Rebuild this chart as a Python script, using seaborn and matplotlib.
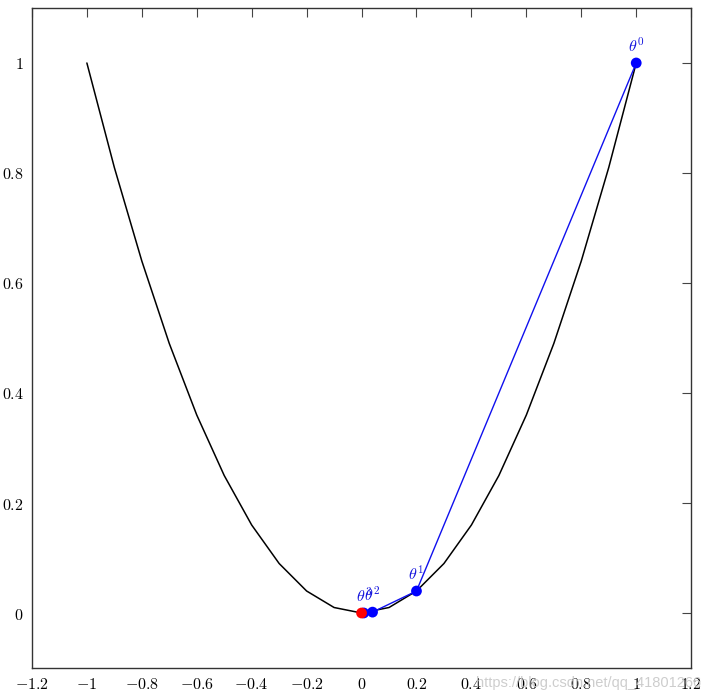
import numpy as np
import pandas as pd
import matplotlib
matplotlib.use('Agg')
import matplotlib.pyplot as plt
import seaborn as sns

curve_x = [-1.0, -0.9, -0.8, -0.7, -0.6, -0.5, -0.4, -0.3, -0.2, -0.1, 0.0,
           0.1, 0.2, 0.3, 0.4, 0.5, 0.6, 0.7, 0.8, 0.9, 1.0]
curve_y = [1.0, 0.81, 0.64, 0.49, 0.36, 0.25, 0.16, 0.09, 0.04, 0.01, 0.0,
           0.01, 0.04, 0.09, 0.16, 0.25, 0.36, 0.49, 0.64, 0.81, 1.0]

# gradient descent iterates
theta_x = [1.0, 0.2, 0.04, 0.008]
theta_y = [1.0, 0.04, 0.0016, 0.000064]
theta_labels = [r'$\theta^0$', r'$\theta^1$', r'$\theta^2$', r'$\theta^3$']

# minimum
opt_x = [0.0]
opt_y = [0.0]

x_ticks = [-1.2, -1.0, -0.8, -0.6, -0.4, -0.2, 0.0, 0.2, 0.4, 0.6, 0.8, 1.0, 1.2]
x_ticklabels = ['-1.2', '-1', '-0.8', '-0.6', '-0.4', '-0.2', '0', '0.2', '0.4',
                '0.6', '0.8', '1', '1.2']
y_ticks = [0.0, 0.2, 0.4, 0.6, 0.8, 1.0]
y_ticklabels = ['0', '0.2', '0.4', '0.6', '0.8', '1']

sns.set_style('white')
plt.rcParams['mathtext.fontset'] = 'cm'
plt.rcParams['font.family'] = ['DejaVu Serif']

curve = pd.DataFrame({'x': curve_x, 'y': curve_y})
iters = pd.DataFrame({'x': theta_x, 'y': theta_y})

fig = plt.figure(figsize=(7.26, 7.0), dpi=100)
ax = fig.add_axes([0.044, 0.0457, 0.908, 0.9429])

sns.lineplot(data=curve, x='x', y='y', color='black', linewidth=1.1,
             sort=False, ax=ax)
sns.lineplot(data=iters, x='x', y='y', color='#1010ee', linewidth=1.0,
             sort=False, ax=ax)
sns.scatterplot(data=iters, x='x', y='y', color='#0000ff', s=60,
                edgecolor='none', ax=ax, zorder=5)
sns.scatterplot(x=opt_x, y=opt_y, color='#ff0000', s=60, edgecolor='none',
                ax=ax, zorder=6)

for tx, ty, lab in zip(theta_x, theta_y, theta_labels):
    ax.annotate(lab, (tx, ty), xytext=(0, 5), textcoords='offset points',
                ha='center', va='bottom', color='#1515dd', fontsize=11.5)

ax.set_xlim(-1.2, 1.2)
ax.set_ylim(-0.1, 1.1)
ax.set_xticks(x_ticks)
ax.set_xticklabels(['$' + t + '$' for t in x_ticklabels])
ax.set_yticks(y_ticks)
ax.set_yticklabels(['$' + t + '$' for t in y_ticklabels])
ax.set_xlabel('')
ax.set_ylabel('')
ax.tick_params(direction='in', length=6.5, width=0.8, top=True, right=True,
               labelsize=11.5, pad=6, colors='#444444', labelcolor='black')
for s in ax.spines.values():
    s.set_color('#333333')
    s.set_linewidth(1.0)

fig.text(0.655, 0.024, 'https://blog.csdn.net/qq_41801266', color='#c8c8c8',
         fontsize=10.5, family='Liberation Sans', va='center', alpha=0.9)

fig.savefig('out.png', dpi=100)
